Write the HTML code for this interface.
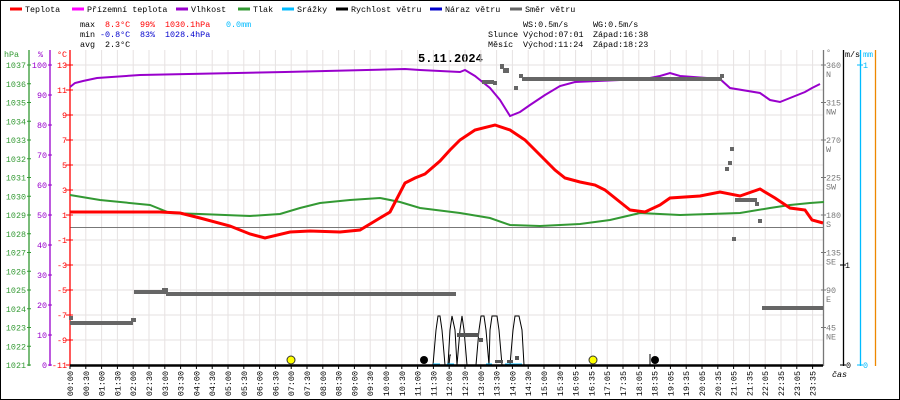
<!DOCTYPE html>
<html><head><meta charset="utf-8"><style>
body{margin:0;background:#fff}
svg{display:block;font-family:"Liberation Mono",monospace;font-size:8.4px}
</style></head><body>
<svg width="900" height="400" xmlns="http://www.w3.org/2000/svg">
<rect x="0.5" y="0.5" width="899" height="399" fill="#fff" stroke="#000"/>
<!-- legend -->
<g>
<line x1="10" y1="9" x2="22" y2="9" stroke="#f00" stroke-width="3"/><text x="25" y="12">Teplota</text>
<line x1="72" y1="9" x2="84" y2="9" stroke="#f0f" stroke-width="3"/><text x="87" y="12">Přízemní teplota</text>
<line x1="176" y1="9" x2="188" y2="9" stroke="#90c" stroke-width="3"/><text x="191" y="12">Vlhkost</text>
<line x1="238" y1="9" x2="250" y2="9" stroke="#393" stroke-width="3"/><text x="253" y="12">Tlak</text>
<line x1="282" y1="9" x2="294" y2="9" stroke="#0bf" stroke-width="3"/><text x="297" y="12">Srážky</text>
<line x1="336" y1="9" x2="348" y2="9" stroke="#000" stroke-width="3"/><text x="351" y="12">Rychlost větru</text>
<line x1="430" y1="9" x2="442" y2="9" stroke="#00c" stroke-width="3"/><text x="445" y="12">Náraz větru</text>
<line x1="510" y1="9" x2="522" y2="9" stroke="#666" stroke-width="3"/><text x="525" y="12">Směr větru</text>
<text x="80" y="27">max</text><text x="105" y="27" fill="#f00">8.3°C</text><text x="140" y="27" fill="#f00">99%</text><text x="165" y="27" fill="#f00">1030.1hPa</text><text x="226" y="27" fill="#0bf">0.0mm</text>
<text x="80" y="37">min</text><text x="100" y="37" fill="#00c">-0.8°C</text><text x="140" y="37" fill="#00c">83%</text><text x="165" y="37" fill="#00c">1028.4hPa</text>
<text x="80" y="47">avg</text><text x="105" y="47">2.3°C</text>
<text x="523" y="27">WS:0.5m/s</text><text x="593" y="27">WG:0.5m/s</text>
<text x="488" y="37">Slunce Východ:07:01</text><text x="593" y="37">Západ:16:38</text>
<text x="488" y="47">Měsíc</text><text x="523" y="47">Východ:11:24</text><text x="593" y="47">Západ:18:23</text>
</g>
<text x="418" y="62" font-size="12" font-weight="bold">5.11.2024</text>
<!-- grid -->
<g id="grid" stroke="#e6e2e2" stroke-width="1"></g>
<line x1="70" y1="227.5" x2="823" y2="227.5" stroke="#777"/>
<!-- axes -->
<line x1="29" y1="50" x2="29" y2="366" stroke="#393" stroke-width="1.3"/>
<line x1="50" y1="50" x2="50" y2="366" stroke="#90c" stroke-width="1.3"/>
<line x1="70" y1="50" x2="70" y2="366" stroke="#f00" stroke-width="1.3"/>
<line x1="823.5" y1="50" x2="823.5" y2="366" stroke="#777" stroke-width="1.3"/>
<line x1="843.5" y1="50" x2="843.5" y2="366" stroke="#000" stroke-width="1.3"/>
<line x1="860.5" y1="50" x2="860.5" y2="366" stroke="#0bf" stroke-width="1.3"/>
<line x1="875.5" y1="50" x2="875.5" y2="366" stroke="#e80" stroke-width="1.3"/>
<text x="4" y="57" fill="#393">hPa</text><text x="38" y="57" fill="#90c">%</text><text x="57" y="57" fill="#f00">°C</text>
<text x="826" y="55" fill="#777">°</text><text x="845" y="57">m/s</text><text x="863" y="57" fill="#0bf">mm</text>
<g id="ax"></g>
<text x="845" y="268">1</text><line x1="840" y1="265" x2="846" y2="265" stroke="#000"/>
<text x="846" y="368">0</text><line x1="840" y1="365" x2="846" y2="365" stroke="#000"/>
<text x="863" y="68" fill="#0bf">1</text><line x1="857" y1="65" x2="863" y2="65" stroke="#0bf"/>
<text x="863" y="368" fill="#0bf">0</text><line x1="857" y1="365" x2="863" y2="365" stroke="#0bf"/>
<text x="832" y="377" font-style="italic">čas</text>
<!-- series -->
<polyline fill="none" stroke="#393" stroke-width="2" points="70,195 100,200 150,205 170,213 200,214 250,216 280,214 300,208 320,203 350,200 380,198 400,202 420,208 460,213 490,218 510,225 540,226 580,224 610,220 640,213 680,215 740,213 770,208 790,205 810,203 824,202"/>
<polyline fill="none" stroke="#90c" stroke-width="2" points="70,87 75,83 83,81 97,78 140,75 285,72 405,69 420,70 460,72 465,70 475,76 480,80 490,88 500,100 505,108 510,116 520,112 530,105 545,95 560,86 575,82 620,80 650,78 660,76 670,73 680,76 720,79 730,88 760,93 770,100 780,102 795,96 805,92 812,88 820,84"/>
<polyline fill="none" stroke="#f00" stroke-width="3" points="70,212 160,212 180,213 200,218 230,226 250,234 265,238 290,232 310,231 340,232 360,230 375,221 390,212 405,183 415,178 425,174 440,161 450,150 460,140 475,130 495,125 510,130 525,140 540,155 555,170 565,178 580,182 595,185 605,190 620,202 630,210 645,212 660,205 670,198 700,196 720,192 740,196 760,189 775,198 790,208 805,210 812,220 823,223"/>
<g fill="#666">
<rect x="70" y="321" width="63" height="4"/><rect x="131" y="318" width="5" height="4"/><rect x="69" y="316" width="4" height="4"/>
<rect x="134" y="290" width="32" height="4"/><rect x="162" y="288" width="6" height="4"/><rect x="166" y="292" width="290" height="4"/>
<rect x="482" y="80" width="12" height="4"/><rect x="493" y="81" width="4" height="4"/><rect x="500" y="64" width="4" height="5"/><rect x="503" y="68" width="6" height="5"/><rect x="514" y="86" width="4" height="4"/><rect x="519" y="74" width="4" height="4"/><rect x="522" y="77" width="200" height="4"/><rect x="720" y="74" width="4" height="4"/>
<rect x="725" y="167" width="4" height="4"/><rect x="728" y="161" width="4" height="4"/><rect x="730" y="147" width="4" height="4"/><rect x="732" y="237" width="4" height="4"/>
<rect x="735" y="198" width="22" height="4"/><rect x="755" y="202" width="4" height="4"/><rect x="758" y="219" width="4" height="4"/>
<rect x="762" y="306" width="61" height="4"/>
</g>
<polyline fill="none" stroke="#000" stroke-width="1" points="433,365 436,330 438,316 440,316 442,330 445,365 448,365 450,330 452,316 455,330 457,365 460,330 462,316 464,330 467,365 476,365 479,330 481,316 484,316 486,330 489,365 490,330 492,316 497,316 499,330 502,365 510,365 513,330 515,316 519,316 522,330 524,365"/>
<polyline fill="none" stroke="#000" stroke-width="1" points="449,365 450,355 451,355"/>
<line x1="433" y1="365" x2="440" y2="365" stroke="#0bf" stroke-width="3"/>
<line x1="447" y1="365" x2="454" y2="365" stroke="#0bf" stroke-width="3"/>
<line x1="486" y1="365" x2="492" y2="365" stroke="#0bf" stroke-width="3"/>
<line x1="505" y1="365" x2="522" y2="365" stroke="#0bf" stroke-width="3"/>
<g fill="#555"><rect x="495" y="360" width="8" height="3"/><rect x="507" y="360" width="6" height="3"/><rect x="515" y="356" width="4" height="4"/><rect x="457" y="333" width="22" height="4"/><rect x="479" y="338" width="4" height="4"/></g>
<line x1="70" y1="365.5" x2="823" y2="365.5" stroke="#000" stroke-width="2.5"/>
<circle cx="291" cy="360" r="4" fill="#ff0" stroke="#333"/>
<circle cx="593" cy="360" r="4" fill="#ff0" stroke="#333"/>
<circle cx="424" cy="360" r="4" fill="#000"/>
<circle cx="655" cy="360" r="4" fill="#000"/>
<line x1="650" y1="354" x2="650" y2="365" stroke="#000"/>
<g id="xl"></g>
<script>
var ns="http://www.w3.org/2000/svg";
function el(p,t,a,txt){var e=document.createElementNS(ns,t);for(var k in a)e.setAttribute(k,a[k]);if(txt!=null)e.textContent=txt;p.appendChild(e);return e;}
var g=document.getElementById('grid'),ax=document.getElementById('ax'),xl=document.getElementById('xl');
for(var i=0;i<48;i++){var x=70+i*15.8;el(g,'line',{x1:x,y1:50,x2:x,y2:365});
var h,m;if(i<32){h=Math.floor(i/2);m=i%2?'30':'00';}else{var k=i-32;h=16+Math.floor(k/2);m=k%2?'35':'05';}
var s=(h<10?'0':'')+h+':'+m;el(xl,'text',{transform:'translate('+(x+3)+',371) rotate(-90)','text-anchor':'end'},s);
el(xl,'line',{x1:x,y1:366,x2:x,y2:369,stroke:'#000'});}
for(var j=0;j<13;j++){var y=65+j*25;el(g,'line',{x1:70,y1:y,x2:823,y2:y});
var c=13-2*j;el(ax,'text',{x:67,y:y+3,'text-anchor':'end',fill:'#f00'},c);el(ax,'line',{x1:66,y1:y,x2:73,y2:y,stroke:'#f00'});}
for(var p=1021;p<=1037;p++){var y=65+(1037-p)*18.75;el(ax,'text',{x:26,y:y+3,'text-anchor':'end',fill:'#393'},p);el(ax,'line',{x1:27,y1:y,x2:31,y2:y,stroke:'#393'});}
for(var q=0;q<=100;q+=10){var y=365-q*3;el(ax,'text',{x:47,y:y+3,'text-anchor':'end',fill:'#90c'},q);el(ax,'line',{x1:48,y1:y,x2:52,y2:y,stroke:'#90c'});}
var dn=['','NE','E','SE','S','SW','W','NW','N'];
for(var d=45;d<=360;d+=45){var y=365-d*0.8333;el(ax,'text',{x:826,y:y+3,fill:'#777'},d);el(ax,'text',{x:826,y:y+12,fill:'#777'},dn[d/45]);el(ax,'line',{x1:821,y1:y,x2:826,y2:y,stroke:'#777'});}
</script>
</svg>
</body></html>
